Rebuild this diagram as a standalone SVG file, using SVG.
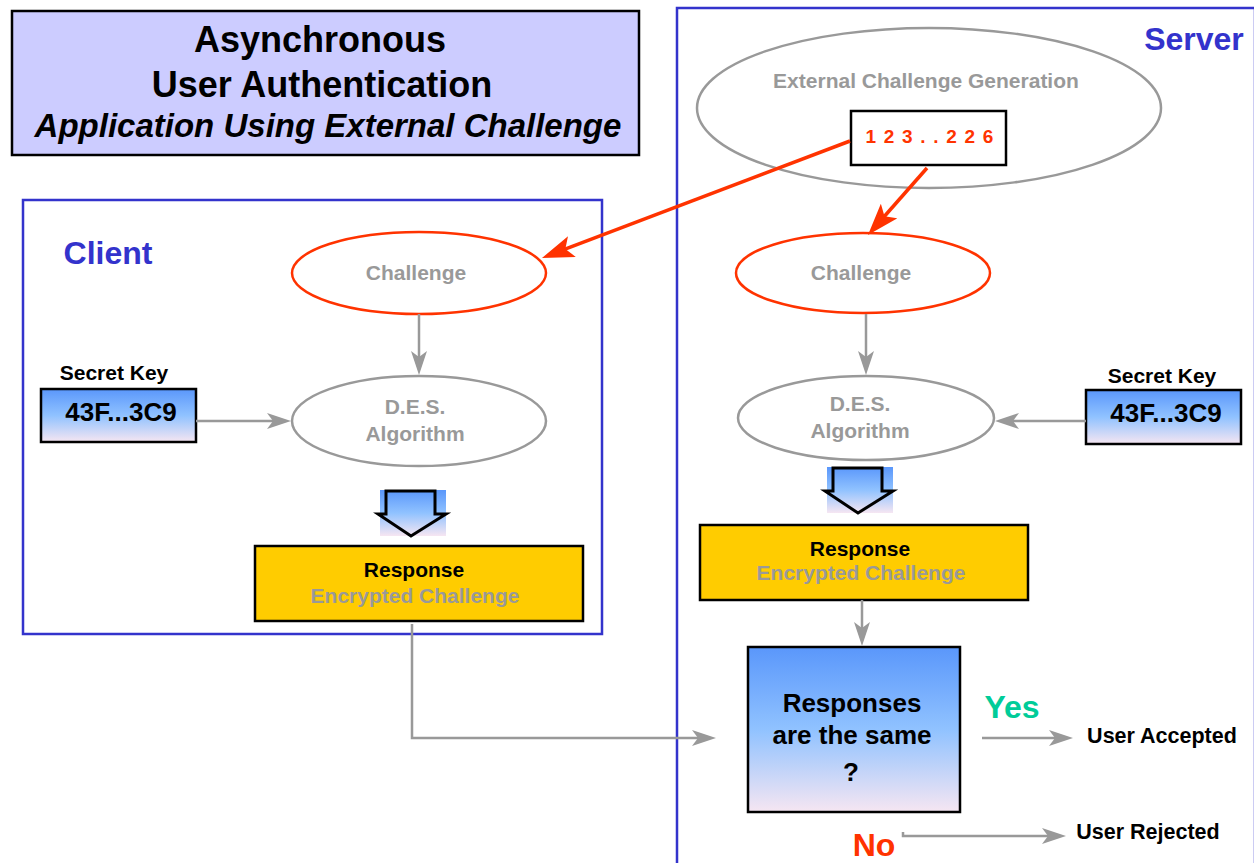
<svg xmlns="http://www.w3.org/2000/svg" width="1254" height="863" viewBox="0 0 1254 863">
<style>
text{font-family:"Liberation Sans",Arial,sans-serif;font-weight:bold;text-anchor:middle}
.gray{fill:#999999}
.blk{fill:#000}
.blue{fill:#3333cc}
.frame{fill:none;stroke:#3333cc;stroke-width:2.5}
.ell{fill:#fff;stroke:#999999;stroke-width:2.5}
.rell{fill:#fff;stroke:#ff3300;stroke-width:2.5}
.conn{fill:none;stroke:#999999;stroke-width:2.5;marker-end:url(#ga)}
.rconn{fill:none;stroke:#ff3300;stroke-width:3.5;marker-end:url(#ra)}
.grad{fill:url(#bg);stroke:#000;stroke-width:2.5}
.resp{fill:#ffcc00;stroke:#000;stroke-width:2.5}
.hollow{fill:none;stroke:#000;stroke-width:3;stroke-linejoin:miter}
</style>
<defs>
<linearGradient id="bg" x1="0" y1="0" x2="0" y2="1">
<stop offset="0" stop-color="#5a97fb"/>
<stop offset="0.5" stop-color="#90c2ff"/>
<stop offset="1" stop-color="#f6e6f2"/>
</linearGradient>
<marker id="ga" markerUnits="userSpaceOnUse" markerWidth="24" markerHeight="16" refX="14" refY="8" orient="auto">
<path d="M0,0 L24,8 L0,16 L6,8 z" fill="#999999"/>
</marker>
<marker id="ra" markerUnits="userSpaceOnUse" markerWidth="32" markerHeight="22" refX="20" refY="11" orient="auto">
<path d="M0,0 L32,11 L0,22 L7,11 z" fill="#ff3300"/>
</marker>
</defs>

<g id="title">
<rect x="12" y="11" width="627" height="144" fill="#ccccff" stroke="#000" stroke-width="2.5"/>
<text x="320" y="52" font-size="36" class="blk">Asynchronous</text>
<text x="322" y="97" font-size="36" class="blk">User Authentication</text>
<text x="328" y="137" font-size="33" font-style="italic" class="blk">Application Using External Challenge</text>
</g>

<g id="server-frame">
<rect x="677" y="8" width="578" height="870" class="frame"/>
<text x="1194" y="50" font-size="32" class="blue">Server</text>
</g>

<g id="client-frame">
<rect x="23" y="200" width="579" height="434" class="frame"/>
<text x="108" y="264" font-size="32" class="blue">Client</text>
</g>

<g id="external-generation">
<ellipse cx="929" cy="108" rx="232" ry="80" class="ell"/>
<text x="926" y="88" font-size="21" class="gray">External Challenge Generation</text>
</g>

<g id="challenge-value">
<rect x="851" y="111" width="155" height="54" fill="#fff" stroke="#000" stroke-width="2.5"/>
<text x="930" y="143" font-size="19" fill="#ff3300" letter-spacing="1.2">1 2 3 . . 2 2 6</text>
</g>

<g id="client-challenge">
<ellipse cx="419" cy="273" rx="127" ry="41" class="rell"/>
<text x="416" y="280" font-size="21" class="gray">Challenge</text>
</g>

<g id="server-challenge">
<ellipse cx="863" cy="273" rx="127" ry="40" class="rell"/>
<text x="861" y="280" font-size="21" class="gray">Challenge</text>
</g>

<g id="client-des">
<ellipse cx="419" cy="421" rx="127" ry="45" class="ell"/>
<text x="415" y="414" font-size="21" class="gray">D.E.S.</text>
<text x="415" y="441" font-size="21" class="gray">Algorithm</text>
</g>

<g id="server-des">
<ellipse cx="866" cy="418" rx="128" ry="42" class="ell"/>
<text x="860" y="411" font-size="21" class="gray">D.E.S.</text>
<text x="860" y="438" font-size="21" class="gray">Algorithm</text>
</g>

<g id="client-key">
<text x="114" y="380" font-size="21" class="blk">Secret Key</text>
<rect x="41" y="389" width="155" height="53" class="grad"/>
<text x="121" y="421" font-size="26" class="blk">43F...3C9</text>
</g>

<g id="server-key">
<text x="1162" y="383" font-size="21" class="blk">Secret Key</text>
<rect x="1086" y="390" width="155" height="54" class="grad"/>
<text x="1166" y="422" font-size="26" class="blk">43F...3C9</text>
</g>

<g id="client-down">
<rect x="380" y="490" width="66" height="46" fill="url(#bg)"/>
<path d="M386,491 L435,491 L435,514 L446,514 L411,536 L378,514 L386,514 Z" class="hollow"/>
</g>

<g id="server-down">
<rect x="827" y="467" width="66" height="46" fill="url(#bg)"/>
<path d="M833,468 L882,468 L882,491 L893,491 L858,513 L825,491 L833,491 Z" class="hollow"/>
</g>

<g id="client-response">
<rect x="255" y="546" width="328" height="75" class="resp"/>
<text x="414" y="577" font-size="21" class="blk">Response</text>
<text x="415" y="603" font-size="21" class="gray">Encrypted Challenge</text>
</g>

<g id="server-response">
<rect x="700" y="525" width="328" height="75" class="resp"/>
<text x="860" y="556" font-size="21" class="blk">Response</text>
<text x="861" y="580" font-size="21" class="gray">Encrypted Challenge</text>
</g>

<g id="decision">
<rect x="748" y="647" width="212" height="165" class="grad"/>
<text x="852" y="712" font-size="26" class="blk">Responses</text>
<text x="852" y="744" font-size="26" class="blk">are the same</text>
<text x="851" y="781" font-size="26" class="blk">?</text>
</g>

<g id="accepted">
<text x="1012" y="718" font-size="32" fill="#00cc99">Yes</text>
<text x="1162" y="743" font-size="21.5" class="blk">User Accepted</text>
</g>

<g id="rejected">
<text x="874" y="856" font-size="32" fill="#ff3300">No</text>
<text x="1148" y="839" font-size="21.5" class="blk">User Rejected</text>
</g>

<g id="connectors">
<path d="M850,141 L553.2,253.7" class="rconn"/>
<path d="M927,168 L875.9,226" class="rconn"/>
<path d="M419,314 L419,365" class="conn"/>
<path d="M866,314 L866,365" class="conn"/>
<path d="M196,421 L281,421" class="conn"/>
<path d="M1086,421 L1005,421" class="conn"/>
<path d="M862,600 L862,636" class="conn"/>
<path d="M412,624 L412,738 L706,738" class="conn"/>
<path d="M982,738 L1063,738" class="conn"/>
<path d="M903,832 L903,836 L1056,836" class="conn"/>
</g>
</svg>
